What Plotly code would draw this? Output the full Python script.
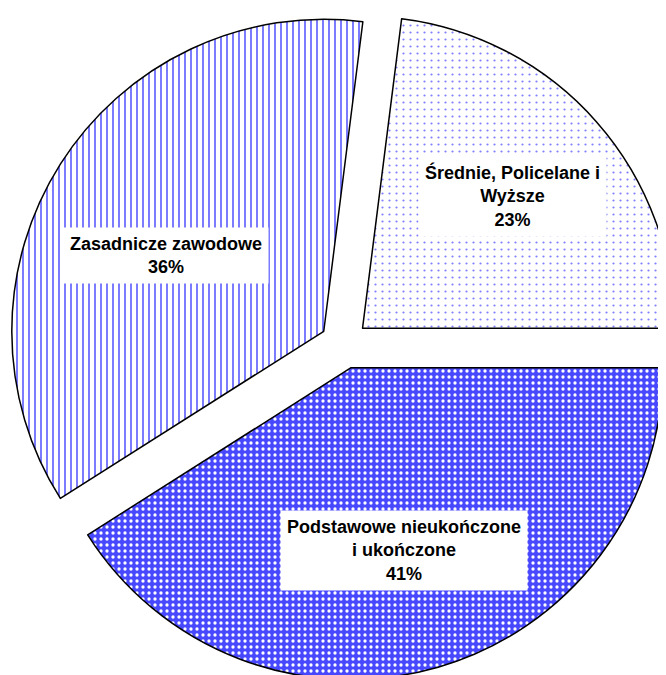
import math
import plotly.graph_objects as go

# ---- data ----
categories = ["Podstawowe nieukończone i ukończone", "Zasadnicze zawodowe", "Średnie, Policelane i Wyższe"]
label_lines = ["Podstawowe nieukończone<br>i ukończone", "Zasadnicze zawodowe", "Średnie, Policelane i<br>Wyższe"]
values = [41, 36, 23]

# ---- style ----
# The figure is larger than the window so that, like the reference, the pie is cut at the right and bottom edges.
W, H = 700, 700
PULL = 0.078
ROTATION = 90
BOX = 672.6  # square box (px) that holds the exploded pie
DOM_X = [0.0, BOX / W]
DOM_Y = [1 - BOX / H, 1.0]
LABEL_FRAC = [0.61, 0.56, 0.64]
LABEL_SHIFT_DEG = [0, -6, 0]

shapes = [".", "|", "."]
fg = ["#ffffff", "#7a7aff", "#8080ff"]
bg = ["#4848ff", "#ffffff", "#ffffff"]
solid = [0.24, 0.33, 0.08]
psize = [6, 6, 7]

fig = go.Figure(go.Pie(
    labels=categories,
    values=values,
    sort=False,
    direction="clockwise",
    rotation=ROTATION,
    pull=[PULL] * len(values),
    textinfo="none",
    hoverinfo="skip",
    domain=dict(x=DOM_X, y=DOM_Y),
    marker=dict(
        colors=bg,
        line=dict(color="#000000", width=1.5),
        pattern=dict(shape=shapes, fgcolor=fg, bgcolor=bg, size=psize, solidity=solid, fillmode="replace"),
    ),
))

# label positions derived from the pie geometry (same formula plotly uses)
bw = W * (DOM_X[1] - DOM_X[0])
bh = H * (DOM_Y[1] - DOM_Y[0])
r = min(bw, bh) / 2 / (1 + PULL)
cx = W * (DOM_X[0] + DOM_X[1]) / 2
cy = H * (1 - DOM_Y[0]) - bh / 2
total = sum(values)
ang = ROTATION
annotations = []
for name, v, f, sh in zip(label_lines, values, LABEL_FRAC, LABEL_SHIFT_DEG):
    span = 360 * v / total
    mid = math.radians(ang + span / 2 + sh)
    ang += span
    d = (PULL + f) * r
    px = cx + d * math.sin(mid)
    py = cy - d * math.cos(mid)
    annotations.append(dict(
        x=px / W, y=1 - py / H, xref="paper", yref="paper",
        xanchor="center", yanchor="middle",
        text=f"{name}<br>{round(100 * v / total)}%",
        showarrow=False, bgcolor="#ffffff", borderpad=6,
        font=dict(family="Arial, Liberation Sans, sans-serif", size=18, color="#000000", weight="bold"),
        align="center",
    ))

fig.update_layout(
    width=W, height=H,
    margin=dict(l=0, r=0, t=0, b=0),
    paper_bgcolor="#ffffff",
    showlegend=False,
    annotations=annotations,
)

fig.write_html("out.html")
